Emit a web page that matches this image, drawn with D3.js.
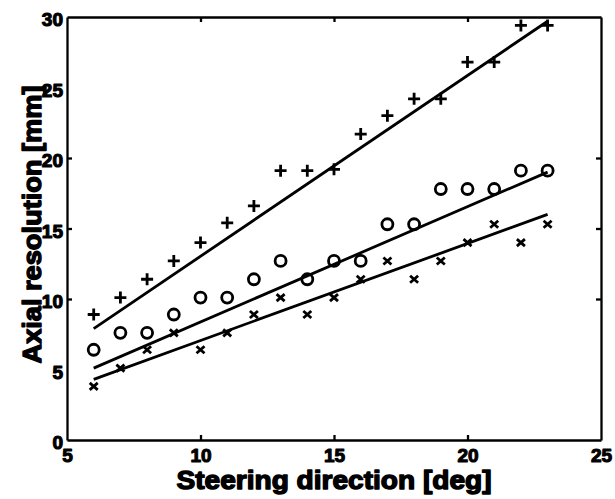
<!DOCTYPE html>
<html>
<head>
<meta charset="utf-8">
<script src="https://cdn.jsdelivr.net/npm/d3@7"></script>
<style>
  body { margin: 0; background: #fff; }
  svg { display: block; }
</style>
</head>
<body>
<div id="chart"></div>
<script>
// Data
const steering = [6, 7, 8, 9, 10, 11, 12, 13, 14, 15, 16, 17, 18, 19, 20, 21, 22, 23];
const plusVals = [8.9, 10.1, 11.4, 12.7, 14.0, 15.4, 16.6, 19.1, 19.1, 19.2, 21.7, 23.0, 24.2, 24.2, 26.8, 26.8, 29.4, 29.4];
const circleVals = [6.4, 7.6, 7.6, 8.9, 10.1, 10.1, 11.4, 12.7, 11.4, 12.7, 12.7, 15.3, 15.3, 17.8, 17.8, 17.8, 19.1, 19.1];
const crossVals = [3.8, 5.1, 6.4, 7.6, 6.4, 7.6, 8.9, 10.1, 8.9, 10.1, 11.4, 12.7, 11.4, 12.7, 14.0, 15.3, 14.0, 15.3];
// fitted lines (end points)
const plusFit = [[6, 7.9], [23, 29.7]];
const circleFit = [[6, 5.1], [23, 19.0]];
const crossFit = [[6, 4.3], [23, 16.0]];
const xTicks = [5, 10, 15, 20, 25];
const yTicks = [0, 5, 10, 15, 20, 25, 30];

const W = 615, H = 499;
const margin = { l: 67, r: 14, t: 17, b: 59 };
const width = W - margin.l - margin.r;
const height = H - margin.t - margin.b;
const font = "'Liberation Sans', Arial, sans-serif";

const svg = d3
  .select('#chart')
  .append('svg')
  .attr('width', W)
  .attr('height', H)
  .append('g')
  .attr('transform', `translate(${margin.l}, ${margin.t})`);

const x = d3.scaleLinear([5, 25], [0, width]);
const y = d3.scaleLinear([0, 30], [height, 0]);

// axes (ticks point inward)
svg.append('g')
  .attr('transform', `translate(0, ${height})`)
  .call(d3.axisBottom(x).tickValues(xTicks).tickSize(-5).tickSizeOuter(0).tickPadding(9));
svg.append('g')
  .call(d3.axisTop(x).tickValues(xTicks).tickSize(-5).tickSizeOuter(0).tickFormat(''));
const gy = svg.append('g')
  .call(d3.axisLeft(y).tickValues(yTicks).tickSize(-5).tickSizeOuter(0).tickPadding(4));
svg.append('g')
  .attr('transform', `translate(${width}, 0)`)
  .call(d3.axisRight(y).tickValues(yTicks).tickSize(-5).tickSizeOuter(0).tickFormat(''));

svg.selectAll('.domain, .tick line').attr('stroke', '#000').attr('stroke-width', 2.3);
gy.selectAll('text').attr('dy', '0.45em');
svg.selectAll('.tick text')
  .style('font-family', font)
  .style('font-weight', 'bold')
  .style('font-size', '19px')
  .style('fill', '#000')
  .style('stroke', '#000')
  .style('stroke-width', '1.1px')
  .style('stroke-linejoin', 'round');

// remove ticks lying on the frame corners
svg.selectAll('.tick').filter((d) => d === 5 || d === 25 || d === 0 || d === 30).select('line').remove();

// fitted lines
const line = d3.line().x((d) => x(d[0])).y((d) => y(d[1]));
[plusFit, circleFit, crossFit].forEach((f) => {
  svg.append('path')
    .attr('d', line(f))
    .attr('fill', 'none')
    .attr('stroke', '#000')
    .attr('stroke-width', 2.8);
});

// markers
svg.append('g')
  .selectAll('path')
  .data(steering)
  .join('path')
  .attr('transform', (d, i) => `translate(${x(d)}, ${y(plusVals[i])})`)
  .attr('d', 'M-6,0H6M0,-6V6')
  .attr('stroke', '#000')
  .attr('stroke-width', 2.8);

svg.append('g')
  .selectAll('circle')
  .data(steering)
  .join('circle')
  .attr('cx', (d) => x(d))
  .attr('cy', (d, i) => y(circleVals[i]))
  .attr('r', 5.5)
  .attr('fill', 'none')
  .attr('stroke', '#000')
  .attr('stroke-width', 2.8);

svg.append('g')
  .selectAll('path')
  .data(steering)
  .join('path')
  .attr('transform', (d, i) => `translate(${x(d)}, ${y(crossVals[i])})`)
  .attr('d', 'M-4,-3.5L4,3.5M-4,3.5L4,-3.5')
  .attr('stroke', '#000')
  .attr('stroke-width', 2.8);

// axis names
const nameStyle = (sel) => sel
  .style('font-family', font)
  .style('font-weight', 'bold')
  .style('font-size', '26px')
  .style('fill', '#000')
  .style('stroke', '#000')
  .style('stroke-width', '1.4px')
  .style('stroke-linejoin', 'round')
  .attr('text-anchor', 'middle')
  .attr('lengthAdjust', 'spacingAndGlyphs');

svg.append('text')
  .call(nameStyle)
  .attr('x', width / 2)
  .attr('y', height + 49)
  .attr('textLength', 315)
  .text('Steering direction [deg]');

svg.append('text')
  .call(nameStyle)
  .attr('textLength', 278)
  .attr('transform', `translate(${-margin.l + 41}, ${height / 2 - 4}) rotate(-90)`)
  .text('Axial resolution [mm]');
</script>
</body>
</html>
